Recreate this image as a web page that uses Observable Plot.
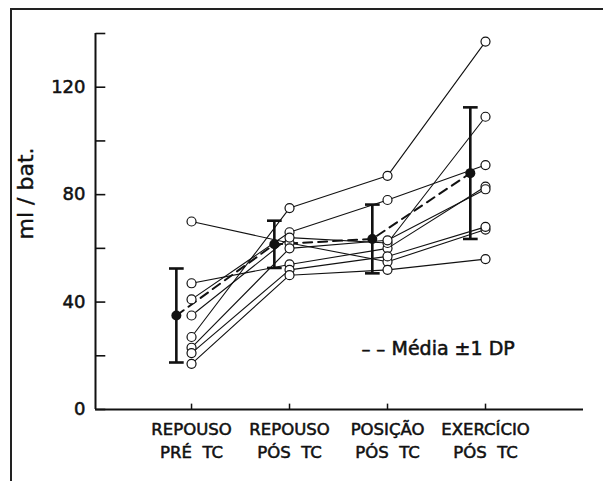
<!DOCTYPE html>
<html>
<head>
<meta charset="utf-8">
<script src="https://cdn.jsdelivr.net/npm/d3@7"></script>
<script src="https://cdn.jsdelivr.net/npm/@observablehq/plot@0.6"></script>
<style>
  body { margin: 0; background: #fff; }
  #frame { position: absolute; left: 10px; top: 8px; right: 0; bottom: 0;
           border-left: 2px solid #222; border-top: 2px solid #222; }
  #chart { position: absolute; left: 0; top: 0; }
</style>
</head>
<body>
<div id="frame"></div>
<div id="chart"></div>
<script>
// Conditions along the x axis
const categories = ["REPOUSO\nPRÉ  TC", "REPOUSO\nPÓS  TC", "POSIÇÃO\nPÓS  TC", "EXERCÍCIO\nPÓS  TC"];

// Stroke volume (ml / bat.) for each subject across the four conditions
const s1 = [27, 75, 87, 137];
const s2 = [70, 62, 55, 67];
const s3 = [47, 54, 60, 83];
const s4 = [41, 66, 78, 91];
const s5 = [35, 64, 62, 109];
const s6 = [23, 60, 63, 82];
const s7 = [21, 52, 57, 68];
const s8 = [17, 50, 52, 56];
const subjects = [s1, s2, s3, s4, s5, s6, s7, s8];

// Group mean and standard deviation per condition
const meanValues = [35, 61.5, 63.5, 88];
const sdValues = [17.5, 8.8, 12.8, 24.5];

// Axis ticks
const yTicks = [0, 20, 40, 60, 80, 100, 120, 140];
const yLabels = [0, 40, 80, 120];

const X0 = -0.98;          // left end of the x scale (where the y axis sits)
const MEAN_SHIFT = -0.155; // mean ± SD drawn just left of each condition
const CAP = 0.075;         // half width of the error bar caps

const rows = subjects.flatMap((s, k) => s.map((v, i) => ({subject: k, i, value: v})));
const means = meanValues.map((m, i) => ({
  i: i + MEAN_SHIFT, mean: m, lo: m - sdValues[i], hi: m + sdValues[i]
}));

// lettering is slightly heavier than a plain regular weight
const ink = {fill: "#111", stroke: "#111", strokeWidth: 0.55};

const chart = Plot.plot({
  width: 603,
  height: 481,
  marginLeft: 95,
  marginRight: 20,
  marginTop: 33,
  marginBottom: 72,
  x: {domain: [X0, 4], axis: null},
  y: {domain: [0, 140], axis: null},
  style: {fontFamily: "DejaVu Sans", color: "#111", background: "transparent", overflow: "visible"},
  marks: [
    // axes
    Plot.ruleX([X0], {y1: 0, y2: 140, strokeWidth: 2}),
    Plot.ruleY([0], {x1: X0, x2: 4, strokeWidth: 2}),
    Plot.link(yTicks, {x1: X0, x2: X0 + 0.1, y1: d => d, y2: d => d, strokeWidth: 1.6}),
    Plot.text(yLabels, {x: X0, y: d => d, dx: -10, textAnchor: "end", fontSize: 18,
                        text: d => String(d), ...ink}),
    Plot.ruleX([0, 1, 2, 3], {y1: 0, y2: 2, strokeWidth: 1.5}),
    Plot.text(categories, {x: (d, i) => i, y: 0, dy: 9, lineAnchor: "top", lineHeight: 1.4,
                           fontSize: 16.5, text: d => d, ...ink}),
    // individual subjects
    Plot.line(rows, {x: "i", y: "value", z: "subject", stroke: "#111", strokeWidth: 1.1}),
    // mean ± 1 SD
    Plot.line(means, {x: "i", y: "mean", stroke: "#111", strokeWidth: 2, strokeDasharray: "9,6"}),
    Plot.ruleX(means, {x: "i", y1: "lo", y2: "hi", strokeWidth: 2.6}),
    Plot.link(means, {x1: d => d.i - CAP, x2: d => d.i + CAP, y1: "hi", y2: "hi", strokeWidth: 2.6}),
    Plot.link(means, {x1: d => d.i - CAP, x2: d => d.i + CAP, y1: "lo", y2: "lo", strokeWidth: 2.6}),
    Plot.dot(rows, {x: "i", y: "value", r: 4.5, fill: "white", stroke: "#111", strokeWidth: 1.2}),
    Plot.dot(means, {x: "i", y: "mean", r: 5, fill: "#111"}),
    // y title
    Plot.text(["ml / bat."], {frameAnchor: "left", textAnchor: "middle", dx: -70, dy: -28,
                              rotate: -90, fontSize: 22, text: d => d, ...ink, strokeWidth: 0.4}),
    // legend
    Plot.text(["– –"], {frameAnchor: "bottom-left", dx: 266, dy: -55, textAnchor: "start",
                        fontSize: 18, text: d => d, ...ink}),
    Plot.text(["Média ±1 DP"], {frameAnchor: "bottom-left", dx: 296, dy: -55, textAnchor: "start",
                                fontSize: 19, text: d => d, ...ink})
  ]
});

document.getElementById("chart").append(chart);
</script>
</body>
</html>
